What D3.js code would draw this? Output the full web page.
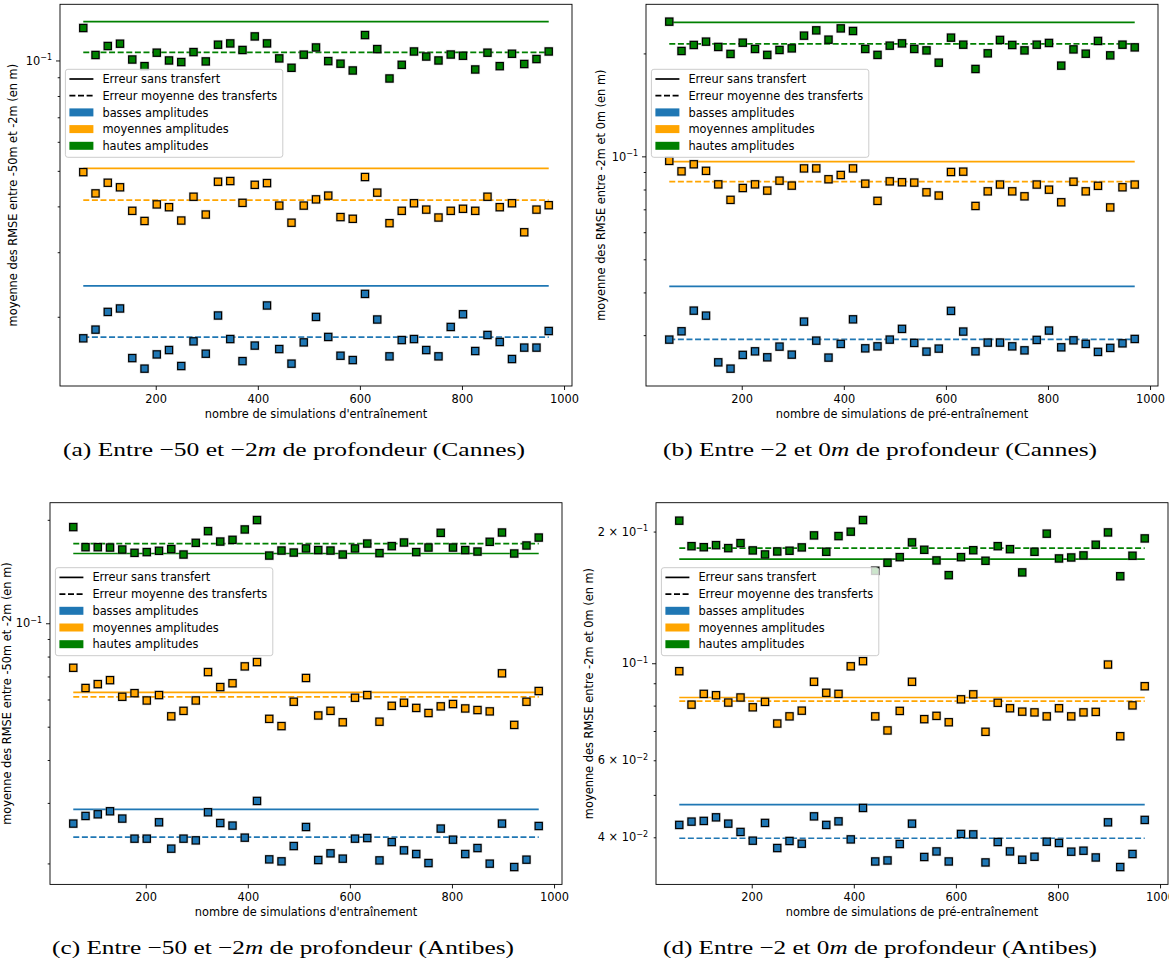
<!DOCTYPE html>
<html>
<head>
<meta charset="utf-8">
<script src="https://cdn.jsdelivr.net/npm/d3@7"></script>
<style>
  body { margin: 0; background: #fff; }
  svg { display: block; }
  text { font-family: "DejaVu Sans", sans-serif; }
</style>
</head>
<body>
<svg id="fig" width="1169" height="964"></svg>
<script>
// nombre de simulations (axe x), same for every panel
const simCounts = [58, 82, 106, 130, 154, 178, 202, 226, 250, 274, 298, 322, 346, 370, 394, 418, 442, 466, 490, 514,
  538, 562, 586, 610, 634, 658, 682, 706, 730, 754, 778, 802, 826, 850, 874, 898, 922, 946, 970];

// (a) Cannes, -50m / -2m
const aBasses = [0.01747, 0.01845, 0.02062, 0.02107, 0.01543, 0.01444, 0.01579, 0.01623, 0.01468, 0.01714, 0.01586, 0.02016, 0.01739,
  0.01514, 0.01669, 0.02147, 0.01633, 0.01490, 0.01703, 0.01998, 0.01762, 0.01566, 0.01524, 0.02309, 0.01966, 0.01560,
  0.01728, 0.01739, 0.01623, 0.01560, 0.01876, 0.02032, 0.01613, 0.01784, 0.01707, 0.01534, 0.01648, 0.01648, 0.01829];
const aMoyennes = [0.0496, 0.0434, 0.0464, 0.0451, 0.0389, 0.0365, 0.0405, 0.0398, 0.0366, 0.0425, 0.0380, 0.0467, 0.0469,
  0.0409, 0.0458, 0.0463, 0.0402, 0.0361, 0.0402, 0.0418, 0.0428, 0.0374, 0.0370, 0.0481, 0.0436, 0.0360,
  0.0389, 0.0408, 0.0392, 0.0373, 0.0389, 0.0394, 0.0389, 0.0425, 0.0398, 0.0408, 0.0340, 0.0392, 0.0403];
const aHautes = [0.1226, 0.1035, 0.1095, 0.1111, 0.1006, 0.0965, 0.1050, 0.1000, 0.0990, 0.1054, 0.0994, 0.1104, 0.1113,
  0.1068, 0.1163, 0.1113, 0.1013, 0.0955, 0.1037, 0.1085, 0.0996, 0.0980, 0.0939, 0.1173, 0.1074, 0.0893,
  0.0973, 0.1058, 0.1025, 0.1000, 0.1038, 0.1030, 0.0945, 0.1050, 0.0965, 0.1043, 0.0978, 0.1009, 0.1058];
const aSansTransfert = [0.02428, 0.0508, 0.1276];   // basses, moyennes, hautes
const aMoyTransferts = [0.0176, 0.0416, 0.1052];

// (b) Cannes, -2m / 0m
const bBasses = [0.02911, 0.03079, 0.03538, 0.03421, 0.02498, 0.02394, 0.02626, 0.02690, 0.02584, 0.02777, 0.02631, 0.03286, 0.02891,
  0.02579, 0.02828, 0.03337, 0.02745, 0.02782, 0.02911, 0.03129, 0.02847, 0.02685, 0.02740, 0.03532, 0.03073, 0.02690,
  0.02853, 0.02853, 0.02782, 0.02708, 0.02905, 0.03094, 0.02764, 0.02897, 0.02828, 0.02680, 0.02753, 0.02839, 0.02924];
const bMoyennes = [0.0970, 0.0904, 0.0948, 0.0907, 0.0828, 0.0746, 0.0808, 0.0828, 0.0794, 0.0849, 0.0821, 0.0922, 0.0922,
  0.0857, 0.0882, 0.0922, 0.0832, 0.0741, 0.0845, 0.0840, 0.0838, 0.0785, 0.0768, 0.0900, 0.0902, 0.0716,
  0.0790, 0.0827, 0.0790, 0.0764, 0.0827, 0.0799, 0.0734, 0.0843, 0.0790, 0.0820, 0.0709, 0.0812, 0.0827];
const bHautes = [0.2477, 0.2033, 0.2117, 0.2165, 0.2089, 0.1993, 0.2150, 0.2061, 0.1980, 0.2047, 0.2069, 0.2254, 0.2336,
  0.2194, 0.2367, 0.2326, 0.2061, 0.1980, 0.2107, 0.2140, 0.2061, 0.2041, 0.1879, 0.2224, 0.2121, 0.1801,
  0.2001, 0.2190, 0.2117, 0.2041, 0.2121, 0.2146, 0.1842, 0.2055, 0.1996, 0.2175, 0.1974, 0.2121, 0.2083];
const bSansTransfert = [0.04168, 0.0965, 0.2465];
const bMoyTransferts = [0.02917, 0.0843, 0.2132];

// (c) Antibes, -50m / -2m
const cBasses = [0.02612, 0.02749, 0.02780, 0.02837, 0.02701, 0.02361, 0.02361, 0.02635, 0.02208, 0.02361, 0.02334, 0.02818, 0.02622,
  0.02577, 0.02377, 0.03040, 0.02055, 0.02028, 0.02247, 0.02553, 0.02046, 0.02140, 0.02065, 0.02361, 0.02371, 0.02041,
  0.02308, 0.02183, 0.02130, 0.02005, 0.02526, 0.02345, 0.02130, 0.02217, 0.01997, 0.02612, 0.01952, 0.02051, 0.02570];
const cMoyennes = [0.0742, 0.0648, 0.0665, 0.0683, 0.0611, 0.0626, 0.0596, 0.0618, 0.0536, 0.0556, 0.0596, 0.0721, 0.0652,
  0.0669, 0.0749, 0.0771, 0.0527, 0.0502, 0.0591, 0.0693, 0.0539, 0.0556, 0.0515, 0.0607, 0.0618, 0.0517,
  0.0575, 0.0587, 0.0567, 0.0548, 0.0573, 0.0582, 0.0565, 0.0559, 0.0554, 0.0715, 0.0506, 0.0591, 0.0635];
const cHautes = [0.1905, 0.1665, 0.1665, 0.1661, 0.1639, 0.1603, 0.1611, 0.1625, 0.1644, 0.1585, 0.1714, 0.1854, 0.1729,
  0.1749, 0.1875, 0.1997, 0.1574, 0.1628, 0.1606, 0.1651, 0.1633, 0.1628, 0.1585, 0.1651, 0.1706, 0.1600,
  0.1677, 0.1718, 0.1611, 0.1661, 0.1833, 0.1661, 0.1633, 0.1617, 0.1726, 0.1837, 0.1596, 0.1684, 0.1776];
const cSansTransfert = [0.02874, 0.0629, 0.1596];
const cMoyTransferts = [0.02386, 0.0611, 0.1706];

// (d) Antibes, -2m / 0m
const dBasses = [0.04269, 0.04344, 0.04360, 0.04443, 0.04298, 0.04114, 0.03929, 0.04314, 0.03780, 0.03923, 0.03867, 0.04466, 0.04269,
  0.04350, 0.03956, 0.04668, 0.03522, 0.03541, 0.03861, 0.04298, 0.03606, 0.03713, 0.03522, 0.04071, 0.04062, 0.03504,
  0.03902, 0.03713, 0.03554, 0.03611, 0.03908, 0.03882, 0.03708, 0.03727, 0.03597, 0.04328, 0.03420, 0.03663, 0.04383];
const dMoyennes = [0.0959, 0.0804, 0.0851, 0.0845, 0.0813, 0.0835, 0.0793, 0.0816, 0.0728, 0.0756, 0.0779, 0.0907, 0.0856,
  0.0851, 0.0984, 0.1011, 0.0756, 0.0702, 0.0778, 0.0907, 0.0745, 0.0758, 0.0733, 0.0827, 0.0849, 0.0697,
  0.0812, 0.0789, 0.0775, 0.0772, 0.0756, 0.0789, 0.0756, 0.0772, 0.0774, 0.0993, 0.0681, 0.0801, 0.0886];
const dHautes = [0.2118, 0.1852, 0.1842, 0.1862, 0.1833, 0.1882, 0.1811, 0.1773, 0.1801, 0.1808, 0.1840, 0.1960, 0.1798,
  0.1953, 0.1999, 0.2125, 0.1627, 0.1697, 0.1748, 0.1889, 0.1817, 0.1718, 0.1590, 0.1748, 0.1813, 0.1715,
  0.1852, 0.1823, 0.1613, 0.1798, 0.1978, 0.1736, 0.1745, 0.1764, 0.1866, 0.1991, 0.1581, 0.1761, 0.1929];
const dSansTransfert = [0.0475, 0.0835, 0.1730];
const dMoyTransferts = [0.0398, 0.0819, 0.1833];

// tick labels
const xTickValues = [200, 400, 600, 800, 1000];
const yTicksSimple = [0.1];
const yTicksAntibesSurface = [0.2, 0.1, 0.06, 0.04];

const legendLabels = ["Erreur sans transfert", "Erreur moyenne des transferts",
  "basses amplitudes", "moyennes amplitudes", "hautes amplitudes"];
const ampColors = ["#1f77b4", "#ffa500", "#008000"];

const FS = 11.4;

class rmseChart {
  constructor(_config, _data) {
    this.config = {
      parentElement: _config.parentElement,
      left: _config.left,
      top: _config.top,
      width: _config.width || 512,
      height: _config.height || 381.7,
      yTicks: _config.yTicks,
      yLabel: _config.yLabel,
      xLabel: _config.xLabel,
      yLabelOffset: _config.yLabelOffset,
      caption: _config.caption,
      captionPos: _config.captionPos
    };
    this.data = _data;
    this.initVis();
  }

  initVis() {
    let vis = this;
    const w = vis.config.width, h = vis.config.height;

    vis.xScale = d3.scaleLinear().range([0, w]);
    vis.yScale = d3.scaleLog().range([h, 0]);

    vis.svg = d3.select(vis.config.parentElement);
    vis.chart = vis.svg.append("g")
      .attr("transform", `translate(${vis.config.left},${vis.config.top})`);

    vis.xAxisG = vis.chart.append("g").attr("transform", `translate(0,${h})`);
    vis.yMinorG = vis.chart.append("g");
    vis.yMajorG = vis.chart.append("g");
    vis.yLabelsG = vis.chart.append("g");
    vis.marks = vis.chart.append("g");

    vis.updateVis();
  }

  updateVis() {
    let vis = this;
    const x = vis.data.x;

    // matplotlib style auto margins, 5% of the range (log range for y)
    const xe = d3.extent(x);
    const xp = (xe[1] - xe[0]) * 0.05;
    vis.xScale.domain([xe[0] - xp, xe[1] + xp]);

    const allY = vis.data.series.flat().concat(vis.data.sans, vis.data.transferts);
    const lo = Math.log10(d3.min(allY)), hi = Math.log10(d3.max(allY));
    const yp = (hi - lo) * 0.05;
    vis.yScale.domain([Math.pow(10, lo - yp), Math.pow(10, hi + yp)]);

    const dom = vis.yScale.domain();
    vis.majorVals = [];
    vis.minorVals = [];
    for (let e = Math.floor(Math.log10(dom[0])); e <= Math.ceil(Math.log10(dom[1])); e++) {
      for (let m = 1; m <= 9; m++) {
        const v = m * Math.pow(10, e);
        if (v < dom[0] || v > dom[1]) continue;
        if (m === 1) vis.majorVals.push(v); else vis.minorVals.push(v);
      }
    }

    vis.renderVis();
  }

  renderVis() {
    let vis = this;
    const w = vis.config.width, h = vis.config.height;
    const x = vis.data.x;
    const x0 = d3.min(x), x1 = d3.max(x);

    // axes
    vis.xAxisG.call(d3.axisBottom(vis.xScale).tickValues(xTickValues).tickFormat(d3.format("d"))
        .tickSize(4).tickPadding(5).tickSizeOuter(0))
      .call(g => g.select(".domain").remove());
    vis.yMinorG.call(d3.axisLeft(vis.yScale).tickValues(vis.minorVals).tickSize(2.3).tickFormat("").tickSizeOuter(0))
      .call(g => g.select(".domain").remove());
    vis.yMajorG.call(d3.axisLeft(vis.yScale).tickValues(vis.majorVals).tickSize(4).tickFormat("").tickSizeOuter(0))
      .call(g => g.select(".domain").remove());
    vis.yLabelsG.call(d3.axisLeft(vis.yScale).tickValues(vis.config.yTicks).tickSize(0).tickPadding(8).tickFormat("").tickSizeOuter(0))
      .call(g => g.select(".domain").remove());

    [vis.xAxisG, vis.yMinorG, vis.yMajorG, vis.yLabelsG].forEach(g => {
      g.attr("font-family", "DejaVu Sans").attr("font-size", FS);
      g.selectAll("line").attr("stroke", "#000").attr("stroke-width", 0.9);
      g.selectAll("text").attr("fill", "#000");
    });

    // 10^-1 style labels with a superscript
    vis.yLabelsG.selectAll(".tick text").each(function (d) {
      const t = d3.select(this).text(null);
      const e = Math.floor(Math.log10(d) + 1e-9);
      const m = Math.round(d / Math.pow(10, e));
      t.append("tspan").text(m === 1 ? "10" : `${m} × 10`);
      t.append("tspan").attr("font-size", 8).attr("dy", "-0.6em").text("−" + Math.abs(e));
    });

    // frame
    vis.chart.append("rect")
      .attr("width", w).attr("height", h)
      .attr("fill", "none").attr("stroke", "#000").attr("stroke-width", 0.9);

    const hline = d3.line().x(d => vis.xScale(d[0])).y(d => vis.yScale(d[1]));

    vis.data.series.forEach((vals, i) => {
      const col = ampColors[i];
      vis.marks.append("path")
        .datum([[x0, vis.data.sans[i]], [x1, vis.data.sans[i]]])
        .attr("d", hline).attr("fill", "none")
        .attr("stroke", col).attr("stroke-width", 1.7);
      vis.marks.append("path")
        .datum([[x0, vis.data.transferts[i]], [x1, vis.data.transferts[i]]])
        .attr("d", hline).attr("fill", "none")
        .attr("stroke", col).attr("stroke-width", 1.7).attr("stroke-dasharray", "6,2.6");
    });

    vis.data.series.forEach((vals, i) => {
      const pts = vals.map((v, k) => ({x: x[k], y: v}));
      const g = vis.marks.append("g");
      g.selectAll(".halo").data(pts).join("rect")
        .attr("x", d => vis.xScale(d.x) - 4.8).attr("y", d => vis.yScale(d.y) - 4.8)
        .attr("width", 9.6).attr("height", 9.6)
        .attr("fill", "#a0a0a0").attr("opacity", 0.45);
      g.selectAll(".pt").data(pts).join("rect")
        .attr("x", d => vis.xScale(d.x) - 3.6).attr("y", d => vis.yScale(d.y) - 3.6)
        .attr("width", 7.2).attr("height", 7.2)
        .attr("fill", ampColors[i]).attr("stroke", "#000").attr("stroke-width", 1.2);
    });

    // legend
    const lg = vis.chart.append("g").attr("transform", "translate(5.4,65)");
    lg.append("rect")
      .attr("width", 217.4).attr("height", 88).attr("rx", 2.5)
      .attr("fill", "#fff").attr("fill-opacity", 0.8)
      .attr("stroke", "#cccccc").attr("stroke-width", 1);
    legendLabels.forEach((lab, r) => {
      const yy = 9.7 + r * 16.7;
      if (r < 2) {
        lg.append("line").attr("x1", 4).attr("x2", 28).attr("y1", yy).attr("y2", yy)
          .attr("stroke", "#000").attr("stroke-width", 1.7)
          .attr("stroke-dasharray", r === 1 ? "6,2.6" : null);
      } else {
        lg.append("rect").attr("x", 4).attr("y", yy - 4).attr("width", 24).attr("height", 8)
          .attr("fill", ampColors[r - 2]);
      }
      lg.append("text").attr("x", 37).attr("y", yy).attr("dy", "0.36em")
        .attr("font-size", FS).attr("fill", "#000").text(lab);
    });

    // axis titles
    vis.chart.append("text")
      .attr("transform", `translate(${vis.config.yLabelOffset},${h / 2}) rotate(-90)`)
      .attr("text-anchor", "middle").attr("font-size", FS).attr("fill", "#000")
      .text(vis.config.yLabel);
    vis.chart.append("text")
      .attr("x", w / 2).attr("y", h + 31.7)
      .attr("text-anchor", "middle").attr("font-size", FS).attr("fill", "#000")
      .text(vis.config.xLabel);

    // caption under the panel
    const cap = vis.config.caption;
    const ct = vis.svg.append("text")
      .attr("x", vis.config.captionPos[0]).attr("y", vis.config.captionPos[1])
      .attr("textLength", vis.config.captionPos[2]).attr("lengthAdjust", "spacingAndGlyphs")
      .style("font-family", "'Liberation Serif', serif").attr("font-size", 19).attr("fill", "#000");
    ct.append("tspan").text(cap[0]);
    ct.append("tspan").attr("font-style", "italic").text("m");
    ct.append("tspan").text(cap[1]);
  }
}

const yLabelDeep = "moyenne des RMSE entre -50m et -2m (en m)";
const yLabelSurface = "moyenne des RMSE entre -2m et 0m (en m)";
const xLabelTrain = "nombre de simulations d'entraînement";
const xLabelPre = "nombre de simulations de pré-entraînement";

new rmseChart({
  parentElement: "#fig", left: 60, top: 4.3, yTicks: yTicksSimple,
  yLabel: yLabelDeep, xLabel: xLabelTrain, yLabelOffset: -43,
  caption: ["(a) Entre −50 et −2", " de profondeur (Cannes)"], captionPos: [63, 456, 462]
}, {x: simCounts, series: [aBasses, aMoyennes, aHautes], sans: aSansTransfert, transferts: aMoyTransferts});

new rmseChart({
  parentElement: "#fig", left: 646, top: 4.3, yTicks: yTicksSimple,
  yLabel: yLabelSurface, xLabel: xLabelPre, yLabelOffset: -41.2,
  caption: ["(b) Entre −2 et 0", " de profondeur (Cannes)"], captionPos: [663, 456, 434]
}, {x: simCounts, series: [bBasses, bMoyennes, bHautes], sans: bSansTransfert, transferts: bMoyTransferts});

new rmseChart({
  parentElement: "#fig", left: 50, top: 502.7, yTicks: yTicksSimple,
  yLabel: yLabelDeep, xLabel: xLabelTrain, yLabelOffset: -39.5,
  caption: ["(c) Entre −50 et −2", " de profondeur (Antibes)"], captionPos: [52, 954, 462]
}, {x: simCounts, series: [cBasses, cMoyennes, cHautes], sans: cSansTransfert, transferts: cMoyTransferts});

new rmseChart({
  parentElement: "#fig", left: 656, top: 502.7, yTicks: yTicksAntibesSurface,
  yLabel: yLabelSurface, xLabel: xLabelPre, yLabelOffset: -63.2,
  caption: ["(d) Entre −2 et 0", " de profondeur (Antibes)"], captionPos: [663, 954, 434]
}, {x: simCounts, series: [dBasses, dMoyennes, dHautes], sans: dSansTransfert, transferts: dMoyTransferts});
</script>
</body>
</html>
